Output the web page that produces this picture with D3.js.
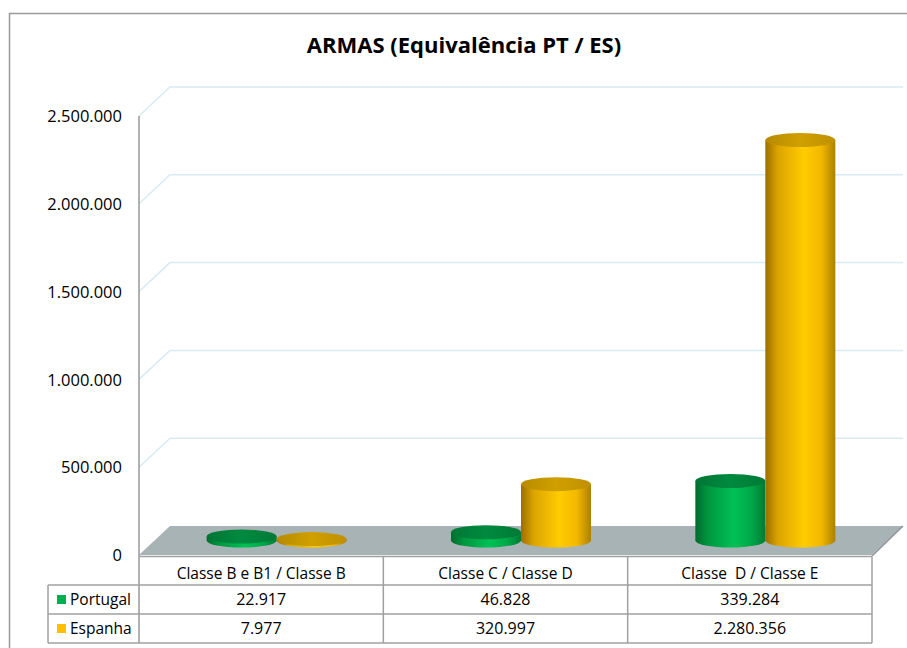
<!DOCTYPE html>
<html>
<head>
<meta charset="utf-8">
<script src="https://cdn.jsdelivr.net/npm/d3@7/dist/d3.min.js"></script>
<style>
  html, body { margin: 0; padding: 0; background: #fff; }
  svg { display: block; }
  text { font-family: "Open Sans", "Noto Sans", sans-serif; fill: #000; }
</style>
</head>
<body>
<svg id="chart" width="907" height="648"></svg>
<script>
const title = "ARMAS (Equivalência PT / ES)";
const categories = ["Classe B e B1 / Classe B", "Classe C / Classe D", "Classe  D / Classe E"];
const seriesNames = ["Portugal", "Espanha"];
const portugal = [22917, 46828, 339284];
const espanha = [7977, 320997, 2280356];
const yTicks = [0, 500000, 1000000, 1500000, 2000000, 2500000];

const series = [
  { name: seriesNames[0], values: portugal, color: "#00B050", grad: "gGreen", top: "gTopG" },
  { name: seriesNames[1], values: espanha, color: "#FFC000", grad: "gYellow", top: "gTopY" }
];

const loc = d3.formatLocale({ decimal: ",", thousands: ".", grouping: [3], currency: ["", ""] });
const fmt = loc.format(",d");

const svg = d3.select("#chart");
const defs = svg.append("defs");
function grad(id, stops) {
  const g = defs.append("linearGradient").attr("id", id).attr("x1", 0).attr("x2", 1).attr("y1", 0).attr("y2", 0);
  stops.forEach(s => g.append("stop").attr("offset", s[0]).attr("stop-color", s[1]));
}
grad("gGreen", [[0, "#006a2e"], [0.18, "#00963f"], [0.55, "#00c155"], [0.8, "#00a848"], [1, "#007a36"]]);
grad("gYellow", [[0, "#9a6e00"], [0.18, "#dca400"], [0.55, "#ffcc00"], [0.8, "#f2b800"], [1, "#ad8000"]]);
grad("gTopY", [[0, "#b78a00"], [0.5, "#d0a000"], [1, "#bf9000"]]);
grad("gTopG", [[0, "#007634"], [0.5, "#008a40"], [1, "#007a36"]]);

// outer frame
svg.append("rect").attr("x", 9.5).attr("y", 13.5).attr("width", 905).attr("height", 700)
  .attr("fill", "none").attr("stroke", "#9a9a9a").attr("stroke-width", 1.5);

// scales
const x = d3.scaleBand().domain(categories).range([139, 872]);
const y = d3.scaleLinear().domain([0, 2500000]).range([555, 116]);
const DX = 31, DY = -29; // depth offset
const cylR = 35, cylRy = 7;

// title
svg.append("text").attr("x", 464).attr("y", 53).attr("text-anchor", "middle")
  .style("font-size", "22px").style("font-weight", "bold").text(title);

// gridlines (side wall + back wall)
const grid = svg.append("g");
yTicks.slice(1).forEach(t => {
  grid.append("path")
    .attr("d", `M${x.range()[0]},${y(t)} L${x.range()[0] + DX},${y(t) + DY} L903,${y(t) + DY}`)
    .attr("fill", "none").attr("stroke", "#d7ebf3").attr("stroke-width", 1.5);
});

// floor
const x0 = x.range()[0], x1 = x.range()[1];
svg.append("path")
  .attr("d", `M${x0},${y(0)} L${x0 + DX},${y(0) + DY} L${x1 + DX},${y(0) + DY} L${x1},${y(0)} Z`)
  .attr("fill", "#a8b3b6").attr("stroke", "none");
svg.append("path")
  .attr("d", `M${x1},${y(0) + 1} L${x1 + DX},${y(0) + DY}`)
  .attr("fill", "none").attr("stroke", "#8d9598").attr("stroke-width", 1.5);

// axis labels
const yAxis = d3.axisLeft(y).tickValues(yTicks).tickFormat(fmt).tickSize(0).tickPadding(0);
const ag = svg.append("g").attr("transform", "translate(122,0)").call(yAxis);
ag.select(".domain").remove();
ag.selectAll("text").style("font-size", "16.5px").style("font-family", "'Open Sans', sans-serif").attr("fill", "#000").attr("dy", "0.35em");

// axis line
svg.append("line").attr("x1", 139).attr("x2", 139).attr("y1", y(2500000)).attr("y2", 643)
  .attr("stroke", "#999").attr("stroke-width", 1.5);

// cylinders
const cg = svg.append("g");
categories.forEach((c, i) => {
  const cx = x(c) + x.bandwidth() / 2 + DX / 2;
  series.forEach((s, j) => {
    const px = cx + (j === 0 ? -cylR : cylR);
    const base = y(0) + DY / 2;
    const topY = y(s.values[i]) + DY / 2;
    cg.append("path")
      .attr("d", `M${px - cylR},${topY} L${px - cylR},${base} A${cylR},${cylRy} 0 0 0 ${px + cylR},${base} L${px + cylR},${topY} Z`)
      .attr("fill", `url(#${s.grad})`);
    cg.append("ellipse").attr("cx", px).attr("cy", topY).attr("rx", cylR).attr("ry", cylRy)
      .attr("fill", `url(#${s.top})`);
  });
});

// table
const tg = svg.append("g");
const lineC = "#a0a0a0";
const hTop = 556.5, r1 = 585, r2 = 614, r3 = 643, legL = 48;
function hline(xa, xb, yy) { tg.append("line").attr("x1", xa).attr("x2", xb).attr("y1", yy).attr("y2", yy).attr("stroke", lineC).attr("stroke-width", 1.5); }
function vline(xx, ya, yb) { tg.append("line").attr("x1", xx).attr("x2", xx).attr("y1", ya).attr("y2", yb).attr("stroke", lineC).attr("stroke-width", 1.5); }
hline(x0, x1, hTop);
hline(legL, x1, r1);
hline(legL, x1, r2);
hline(legL, x1, r3);
categories.forEach(c => vline(x(c) + x.bandwidth(), hTop, r3));
vline(legL, r1, r3);

categories.forEach((c, i) => {
  const cx = x(c) + x.bandwidth() / 2;
  tg.append("text").attr("x", cx).attr("y", (hTop + r1) / 2 + 2.5).attr("dy", "0.35em")
    .attr("text-anchor", "middle").style("font-size", "15.5px").style("white-space", "pre").text(c);
  series.forEach((s, j) => {
    const ry = j === 0 ? (r1 + r2) / 2 : (r2 + r3) / 2;
    tg.append("text").attr("x", cx).attr("y", ry).attr("dy", "0.35em")
      .attr("text-anchor", "middle").style("font-size", "16px").text(fmt(s.values[i]));
  });
});
series.forEach((s, j) => {
  const ry = j === 0 ? (r1 + r2) / 2 : (r2 + r3) / 2;
  tg.append("rect").attr("x", 57).attr("y", ry - 4.5).attr("width", 9).attr("height", 9).attr("fill", s.color);
  tg.append("text").attr("x", 70).attr("y", ry).attr("dy", "0.35em").style("font-size", "15.5px").text(s.name);
});
</script>
</body>
</html>
